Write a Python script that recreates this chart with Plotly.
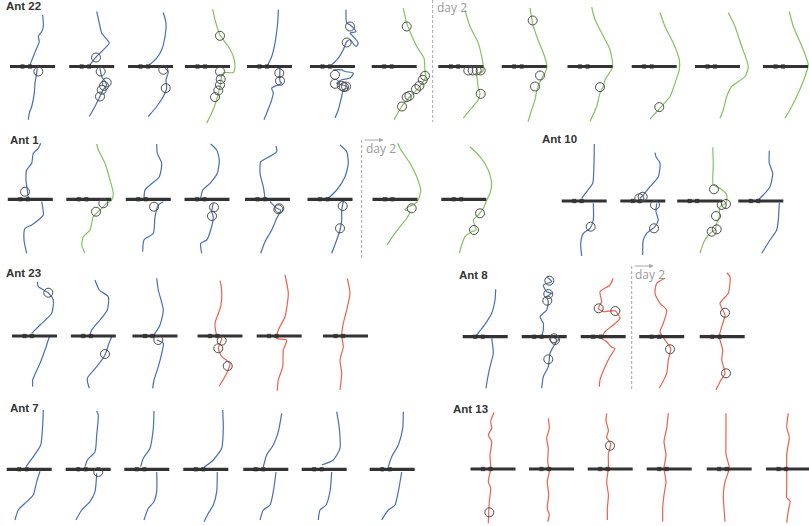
import plotly.graph_objects as go

# ======================= DATA =======================
# Each trial: path offsets (dx, dy) relative to the bridge centre (dy>0 = below);
# None marks the break where the ant is displaced along the bridge.
# kind: b = blue, g = green, r = red trial.

ant22_kind = "bbbgbbggggggg"
ant22_tracks = [
    [(10.2,-51.7),(10.8,-40),(9.2,-35),(5.8,-30),(6.8,-25),(3.5,-16.7),(0.8,-10),(-1.8,-3.4),(-3.2,0),None,
     (4.8,0),(4.2,6.6),(2.5,16.6),(1.8,26.6),(-0.8,40),(-3.2,46.6),(-4.2,53.3)],
    [(5,-55),(7.6,-43.4),(10,-33.4),(17.6,-23.4),(11.6,-16.7),(3.3,-8.4),(-1.7,-1.7),None,
     (8.3,1.6),(10,10),(15,18.3),(11.6,23.3),(6.6,33.3),(3.3,40),(-2.4,50)],
    [(12.8,-54),(15.5,-43.4),(14.5,-30),(11.2,-16.7),(6.2,-8.4),(-2.2,-0.7),None,
     (14.5,1.6),(17.8,5),(15.5,13.3),(16.2,21.6),(12.8,30),(6.2,40),(-2.2,50)],
    [(5.2,-57.4),(7.5,-46.7),(12.5,-31.7),(20.8,-20),(25.8,-10),(27.5,0),(25.8,6),(16.5,6),(14.2,10),
     (12.5,20),(9.2,33.3),(4.2,46.6),(-0.8,56.6)],
    [(8.8,-56.7),(8.5,-48),(7.8,-40),(5.5,-23.4),(2.2,-10),(-2.5,0),None,
     (10.5,1.6),(10.5,15),(12.2,16.6),(2.2,21.6),(3.8,26.6),(2.2,33.3),(-1.5,43.3),(-5.5,53.3)],
    [(13.5,-56.7),(14.2,-43.4),(17.5,-41.7),(23.5,-35),(17.5,-33.4),(20.8,-30),(25.8,-23.4),(23.5,-20),
     (17.5,-26.7),(14.2,-25),(10.8,-16.7),(5.8,-8.4),(-0.8,-1.7),None,
     (0.8,3.3),(9.2,3.3),(12.5,5),(20.8,6.6),(17.5,11.6),(9.2,13.3),(4.2,16.6),(12.5,19.3),(15.8,21.6),
     (10.8,23.3),(9.2,30),(5.8,43.3),(2.5,51.6)],
    [(9.1,-58.4),(12.5,-43.4),(22.5,-20),(29.8,-8.4),(30.8,5),(31.5,10),(25.8,20),(15.8,30),(7.5,40),(-0.2,53.3)],
    [(4.2,-56.7),(9.2,-40),(17.5,-23.4),(20.9,-10),(22.5,0),(21.9,5),(15.9,6.6),(16.5,13.3),(17.5,21.6),
     (19.2,26.6),(17.5,33.3),(9.2,43.3),(2.5,51.6)],
    [(5.8,-58.7),(8.8,-41.7),(13.8,-26.7),(19.8,-11.7),(22.8,0),(20.8,6.3),(16.8,13.3),(12.8,23.3),(10.8,33.3),
     (6.8,45.3),(3.8,55.3)],
    [(1.7,-59.4),(5,-46.7),(11.7,-33.4),(20,-16.7),(22.7,0),(18.3,8.3),(15,13.3),(13.3,20),(10,26.6),(6.7,40),(0,55)],
    [(5.8,-54),(10.8,-40),(19.1,-23.4),(25.1,-6.7),(25.1,3.3),(20.8,16.6),(15.8,30),(5.8,41.6),(-4.2,52.6)],
    [(10.8,-54),(17.5,-40),(24.2,-20),(30.8,0),(27.5,10),(14.2,20),(9.2,30),(5.8,43.3),(2.5,51.6)],
    [(3.8,-55),(7.8,-40),(17.8,-16.7),(22.8,-1.7),(19.5,10),(12.8,26.6),(4.5,43.3),(-0.5,51.6)],
]
ant22_circles = [
    [(5.8,5)],
    [(4.3,-9),(9,5),(15,16),(12.3,19.3),(10,23.3),(8.3,30)],
    [(12.8,3.3),(15.2,21.6)],
    [(12.5,-30.7),(12.5,5),(13.2,12.6),(12.5,18.3),(10.8,24),(7.5,30.6)],
    [(9.8,6.6),(10.5,14.3)],
    [(17.5,-40),(14.2,-24),(2.5,8.3),(2.5,17.3),(9.2,19.3),(11.5,20.6),(13.5,20)],
    [(12.5,-40),(30.8,9.3),(28.5,13.3),(25.2,19.3),(21.8,22.6),(15.2,29.3),(12.5,30.6),(7.8,40)],
    [(7.5,4),(11.9,4),(15.9,4),(19.9,4),(19.9,27.3)],
    [(8.5,-46),(15.8,9),(10.8,20)],
    [(10,20.6)],
    [(5.1,40.6)],
    [],
    [],
]

ant1_kind = "bgbbbbgg"
ant1_tracks = [
    [(10.4,-56),(8,-51),(3,-46),(1.4,-36),(-3.6,-29.3),(-4.3,-19.3),(-3,-9.3),(-2,-1),None,
     (11.4,2.4),(13,15.7),(8,20.7),(1.4,25.7),(-5.3,29),(-6.3,40.7),(-3.6,54)],
    [(7.9,-55.3),(9.5,-49.3),(16.2,-36),(21.2,-19.3),(24.5,-6),(22.9,0.7),(17.9,4),(11.2,10.7),(4.5,17.4),
     (1.2,30.7),(-5.5,37.4),(-7.1,45.7),(-3.8,54)],
    [(8.4,-55.3),(9,-46),(13.4,-36),(11,-22.6),(1.7,-14.3),(-3.3,-9.3),(-4.3,-1),None,
     (15,2.4),(10,5.7),(6.7,17.4),(5,34),(-4.3,40.7),(-5.6,52.4)],
    [(3.7,-55.3),(9.7,-49.3),(12.3,-39.3),(10.3,-26),(3,-16),(-4.3,-9.3),(-6.3,-1),None,
     (6.3,4),(4.7,12.4),(6.3,17.4),(3.7,30.7),(-0.3,40.7),(-6.3,44),(-5.3,54)],
    [(8.5,-53.3),(9.2,-47.6),(-4.2,-39.3),(-6.8,-37.6),(-7.5,-26),(-4.2,-12.6),(-2.5,-1),None,
     (2.5,2.4),(9.2,9),(13.2,10.7),(9.2,19),(4.2,30.7),(-2.5,42.4),(-6.8,54)],
    [(10,-54.3),(16.7,-47.6),(18.3,-36),(15,-22.6),(6.7,-9.3),(-1.7,-1),None,
     (13.3,2.4),(11.7,10.7),(11.7,20.7),(10,30.7),(6.7,40.7),(1.7,54)],
    [(3,-56),(5,-51),(15,-36),(21.7,-22.6),(25.7,-9.3),(23.3,0.7),(18.3,5.7),(13.3,7.4),(10,10.7),(15,12.4),
     (11.7,19),(5,27.4),(-3,38),(-8,45.7)],
    [(6.2,-52.6),(16.2,-42.6),(24.5,-29.3),(27.9,-16),(26.2,-6),(22.9,0.7),(19.5,9),(14.5,15.7),(9.5,20.7),
     (12.2,30.7),(7.9,32.4),(1.2,37.4),(-2.1,45.7),(-4.5,54)],
]
ant1_circles = [
    [(-5.3,-7.6)],
    [(14.5,4),(7.2,12.4)],
    [(5.7,7.4)],
    [(7,8),(5,16.7)],
    [(10.8,10),(11.8,9)],
    [(12.7,6.7),(10,29)],
    [(16.7,9)],
    [(16.2,14),(10.2,30.7)],
]

ant10_kind = "bbgb"
ant10_tracks = [
    [(10.1,-57),(9.8,-37.7),(8.5,-17.7),(2.5,-9.3),(-2.5,-2.7),None,
     (9.1,2.3),(9.1,19),(5.8,27.3),(-0.9,32.3),(-3.5,42.3),(-2.5,55)],
    [(12.2,-48.3),(13.2,-44.3),(17.2,-37.7),(15.5,-24.3),(7.2,-14.3),(0.5,-6),(-2.8,-2.7),None,
     (13.9,2.3),(13.2,10.7),(15.5,19),(12.2,25.7),(3.9,32.3),(0.5,39),(-0.1,54)],
    [(13,-53.7),(13.6,-37.7),(13.6,-16),(20.3,-12.7),(27,-6),(26.3,2.3),(20.3,5.7),(19.6,15.7),(17,22.3),
     (15.3,29),(10.3,32.3),(4.3,40.7),(0.3,52.3)],
    [(8.5,-50.3),(8.5,-37.7),(11.9,-27.7),(9.2,-14.3),(2.5,-6),(-2.5,-1),None,
     (18.5,1.7),(17.5,19),(15.9,29),(9.2,39),(0.9,52.3)],
]
ant10_circles = [
    [(6.5,25.7)],
    [(-3.5,-2.7),(-0.1,-4.3),(12.2,4),(11.2,27.3)],
    [(14.3,-11.7),(22,4),(26.3,3),(16.3,15),(17,28.3),(12,30.7)],
    [],
]

ant23_kind = "bbbrrr"
ant23_tracks = [
    [(2.8,-54.3),(3.8,-49.3),(13.8,-43.3),(18.8,-36),(17.2,-22.7),(5.5,-11),(-2.8,-2.7),None,
     (14.8,0.7),(10.5,14),(5.5,27.3),(-1.8,44),(-1.8,50.7)],
    [(1.7,-56),(6,-46),(15,-39.3),(14,-26),(6.7,-16),(-1.6,-6),(-3.3,-1),None,
     (18.4,0.7),(15,9),(11.7,19),(3.4,30.7),(-6,42.3),(-4,52.3)],
    [(1.7,-57.7),(3.3,-46),(8.3,-26),(5,-11),(-1,-1),None,
     (1.7,4),(8.3,7.3),(6.7,17.3),(3.3,30.7),(-1,44),(-2.3,52.3)],
    [(0,-55.3),(1.7,-46),(0.7,-29.3),(-5,-12.7),(-3.3,-1),(1.7,2.3),(-1.7,12.3),(1.7,20.7),(10,27.3),
     (6.7,37.3),(-0.7,50)],
    [(5.8,-61),(9.1,-42.7),(5.8,-19.3),(-0.9,-6),(-2.5,2.3),(7.5,4),(4.1,14),(3.5,30.7),(-0.9,44),(-1.9,54.7)],
    [(1.8,-57.7),(4.5,-42.7),(1.2,-26),(-2.2,-12.7),(-3.8,0),(-2.2,10.7),(-5.5,24),(-3.8,37.3),(-5.5,54)],
]
ant23_circles = [
    [(13.8,-43.3)],
    [(11.7,18)],
    [(3.3,4)],
    [(1.7,4.7),(-1.7,12.3),(7.7,30)],
    [],
    [],
]

ant8_kind = "bbrrr"
ant8_tracks = [
    [(10.5,-47.4),(9.8,-36.7),(6.5,-23.4),(-1.9,-10),(-8.5,-1.7),None,
     (6.5,1.6),(8.1,16.6),(4.8,30),(2.1,43.3),(0.8,51.6)],
    [(2.5,-60),(7.5,-55),(-0.9,-51.7),(2.5,-45),(7.5,-43.4),(2.5,-40),(4.1,-35),(2.5,-26.7),(-4.2,-20),
     (-0.9,-13.4),(-0.9,-6.7),(-2.5,-0.7),None,
     (9.1,0),(12.5,3.3),(9.1,10),(5.8,16.6),(4.1,30),(-0.9,40),(-2.5,51.6)],
    [(10.1,-58.4),(6.8,-51.7),(-3.2,-45),(-1.5,-35),(-4.9,-28.4),(0.1,-25),(11.8,-26),(16.8,-18.4),(10.1,-11.7),
     (1.8,-5),(-1.5,1.6),(3.5,5),(8.5,10.6),(11.8,11.6),(6.8,20),(1.8,30),(-3.2,43.3),(-3.9,50)],
    [(3.3,-58.4),(-5,-53.4),(-6.7,-43.4),(-1.7,-33.4),(5,-26.7),(1.6,-13.4),(-1.7,-5),(3.3,3.3),(9,11.6),
     (6.6,23.3),(5,36.6),(-2.4,51.6)],
    [(4.5,-64),(7.8,-60),(6.1,-43.4),(-2.2,-33.4),(2.8,-21.7),(-0.5,-10),(-2.9,0),(0.5,13.3),(-0.5,23.3),
     (2.8,36.6),(-2.2,45),(-6.2,53.3)],
]
ant8_circles = [
    [],
    [(5.1,-56),(4.1,-42.7),(3.1,-36),(9.8,1.6),(10.8,3.3),(4.1,22.6)],
    [(-4.5,-28.4),(12.1,-25.7)],
    [(8.3,12.6)],
    [(2.8,-24),(3.8,36.6)],
]

ant7_kind = "bbbbbbb"
ant7_tracks = [
    [(14.1,-59.3),(13.5,-44.3),(11.5,-24.3),(4.1,-12.6),(-3.2,-2.6),None,
     (10.8,2),(7.5,12.4),(4.1,25.7),(-2.5,32.4),(-10.9,40.7),(-14.2,50.7)],
    [(8.5,-58.3),(10.1,-54.3),(8.5,-34.3),(6.8,-17.6),(-0.9,-9.3),(-3.2,-2.6),None,
     (8.5,4),(6.8,22.4),(1.8,32.4),(-6.5,40.7),(-12.2,50.7)],
    [(7.2,-58.3),(6.5,-41),(3.2,-21),(-3.5,-11),(-6.1,-2.6),None,
     (9.9,2.7),(9.9,22.4),(7.2,32.4),(1.5,39),(-2.8,50.7)],
    [(16.9,-59.3),(17.5,-41),(15.9,-21),(7.5,-9.3),(-1.8,-2),None,
     (11.5,2.7),(10.9,22.4),(7.5,35.7),(2.5,44),(-1.8,52.4)],
    [(15.9,-56),(12.5,-37.6),(7.5,-24.3),(0.9,-14.3),(-2.5,-2.3),None,
     (10.2,2.7),(7.5,22.4),(4.2,35.7),(-2.5,40.7),(-5.8,50.7)],
    [(12.5,-57.6),(15.1,-41),(15.8,-21),(9.1,-9.3),(-2.5,-4.3),None,
     (7.5,2.7),(5.8,22.4),(1.8,35.7),(-4.2,40.7),(-5.9,50.7)],
    [(11.1,-57.6),(10.5,-41),(6.1,-24.3),(-0.5,-12.6),(-3.9,-2.6),None,
     (9.5,2.7),(6.1,22.4),(2.8,35.7),(-3.9,40.7),(-10.5,50.7)],
]
ant7_circles = [[], [(10.1,2.7)], [], [], [], [], []]

ant13_kind = "rrrrrr"
ant13_tracks = [
    [(1,-56.7),(-2.3,-47.3),(-1.3,-40.7),(-4.7,-34),(-1.3,-27.3),(-3,-14),(-2.3,0),(-4.7,12.7),(-2.3,19.3),
     (-3.7,32.7),(-4.7,54.3)],
    [(-3.2,-50.7),(-2.2,-40.7),(-4.8,-30.7),(-3.2,-20.7),(-3.8,-7.3),(-2.2,2.7),(-4.2,12.7),(-2.8,26),
     (-4.2,39.3),(-2.2,46),(-3.8,52.7)],
    [(-3.5,-55.7),(-4.2,-48.3),(-1.8,-38.3),(-3.5,-31.7),(0.5,-25),(-1.8,-15),(-1.8,-0.7),(-3.5,12.7),
     (-1.8,26),(-2.8,39.3),(-2.8,51)],
    [(-0.9,-55.7),(-2.5,-40.7),(-5.2,-27.3),(-3.2,-14),(-5.2,-0.7),(-3.2,12.7),(-5.2,26),(-6.5,39.3),(-6.5,52.7)],
    [(-3.2,-55.7),(-3.2,-35),(-3.2,-15),(0.1,-0.7),(-4.2,12.7),(-5.9,26),(-5.2,39.3),(-4.2,52.7)],
    [(-0.2,-55.7),(-1.8,-41.7),(0.8,-31.7),(-1.8,-15),(-1.8,-0.7),(-1.8,18.7),(-1.8,28.7),(1.5,32),(-0.2,42),
     (-1.8,53.7)],
]
ant13_circles = [[(-3.7,43.3)], [], [(-0.2,-23.3)], [], [], []]

ant_names = ["Ant 22", "Ant 1", "Ant 10", "Ant 23", "Ant 8", "Ant 7", "Ant 13"]
day2_label = "day 2"

# ======================= LAYOUT (pixel space) =======================
W, H = 809, 526
COLORS = {"b": "#4570b6", "g": "#80c45e", "r": "#f0604a"}
BAR_C = "#333333"
CIRC_C = "#4d4d4d"
BAR_HALF = 22.5
MARK_OFFS = (-10, -2.5)

panels = [
    # name, kind, tracks, circles, centres x, bridge y, title (x, y)
    (ant_names[0], ant22_kind, ant22_tracks, ant22_circles,
     [32.5, 91.7, 150.5, 207.5, 269.5, 332.5, 394.2, 460.8, 524.2, 590, 654.2, 717.5, 785.5], 66.5, (4, 5.5)),
    (ant_names[1], ant1_kind, ant1_tracks, ant1_circles,
     [30.3, 88.8, 148.3, 207, 267.5, 330, 395, 463.8], 199.3, (8, 140)),
    (ant_names[2], ant10_kind, ant10_tracks, ant10_circles,
     [584.2, 642.8, 699.7, 760.8], 201, (540, 139)),
    (ant_names[3], ant23_kind, ant23_tracks, ant23_circles,
     [34.5, 93.3, 155, 220, 279.2, 345.5], 336, (4, 273)),
    (ant_names[4], ant8_kind, ant8_tracks, ant8_circles,
     [485.2, 544.2, 603.2, 661.7, 722.2], 336.7, (456.7, 275)),
    (ant_names[5], ant7_kind, ant7_tracks, ant7_circles,
     [29.2, 88.2, 146.8, 205.8, 265.8, 324.2, 392.2], 469.3, (8, 407.5)),
    (ant_names[6], ant13_kind, ant13_tracks, ant13_circles,
     [493, 551.5, 610.2, 669.2, 729.2, 788.5], 469, (450.7, 409)),
]

fig = go.Figure()

line_x = {k: [] for k in COLORS}
line_y = {k: [] for k in COLORS}
bar_x, bar_y, mk_x, mk_y, c_x, c_y = [], [], [], [], [], []
annotations = []

for name, kind, tracks, circles, cxs, by, (tx, ty) in panels:
    for k, trk, circ, cx in zip(kind, tracks, circles, cxs):
        for p in trk:
            if p is None:
                line_x[k].append(None); line_y[k].append(None)
            else:
                line_x[k].append(cx + p[0]); line_y[k].append(by + p[1])
        line_x[k].append(None); line_y[k].append(None)
        bar_x += [cx - BAR_HALF, cx + BAR_HALF, None]
        bar_y += [by, by, None]
        for o in MARK_OFFS:
            mk_x.append(cx + o); mk_y.append(by)
        for (dx, dy) in circ:
            c_x.append(cx + dx); c_y.append(by + dy)
    annotations.append(dict(x=tx, y=ty, text="<b>%s</b>" % name, showarrow=False,
                            xanchor="left", yanchor="middle",
                            font=dict(family="Liberation Sans, Arial", size=11.5, color="#333333")))

for k in COLORS:
    fig.add_trace(go.Scatter(x=line_x[k], y=line_y[k], mode="lines",
                             line=dict(color=COLORS[k], width=1.2, shape="spline", smoothing=0.6),
                             hoverinfo="skip", showlegend=False))
fig.add_trace(go.Scatter(x=bar_x, y=bar_y, mode="lines", line=dict(color=BAR_C, width=3.2),
                         hoverinfo="skip", showlegend=False))
fig.add_trace(go.Scatter(x=mk_x, y=mk_y, mode="markers",
                         marker=dict(symbol="square", size=3.5, color=BAR_C,
                                     line=dict(width=0.6, color=BAR_C)),
                         hoverinfo="skip", showlegend=False))
fig.add_trace(go.Scatter(x=c_x, y=c_y, mode="markers",
                         marker=dict(symbol="circle-open", size=9, color=CIRC_C, line=dict(width=1)),
                         hoverinfo="skip", showlegend=False))

# day-2 separators
GRAY = "#a6a6a6"
day2 = [  # dashed x, y0, y1, label x, label y, arrow?
    (432.7, 0, 122, 434.5, 7, False),
    (361.7, 140, 258, 364, 148.5, True),
    (631.7, 266, 390, 633.3, 274.5, True),
]
shapes = []
for x, y0, y1, lx, ly, arrow in day2:
    shapes.append(dict(type="line", xref="x", yref="y", x0=x, x1=x, y0=y0, y1=y1,
                       line=dict(color=GRAY, width=1, dash="3px,2px")))
    annotations.append(dict(x=lx, y=ly, text=day2_label, showarrow=False, xanchor="left", yanchor="middle",
                            font=dict(family="Open Sans, Arial", size=12, color="#9a9a9a")))
    if arrow:
        annotations.append(dict(x=x + 22, y=y0, ax=x + 1.5, ay=y0, axref="x", ayref="y", xref="x", yref="y",
                                text="", showarrow=True, arrowhead=2, arrowsize=0.9, arrowwidth=1,
                                arrowcolor=GRAY))

fig.update_layout(
    width=W, height=H, margin=dict(l=0, r=0, t=0, b=0),
    paper_bgcolor="white", plot_bgcolor="white",
    xaxis=dict(range=[0, W], visible=False, fixedrange=True),
    yaxis=dict(range=[H, 0], visible=False, fixedrange=True),
    shapes=shapes, annotations=annotations, showlegend=False,
)

fig.write_html("out.html")
